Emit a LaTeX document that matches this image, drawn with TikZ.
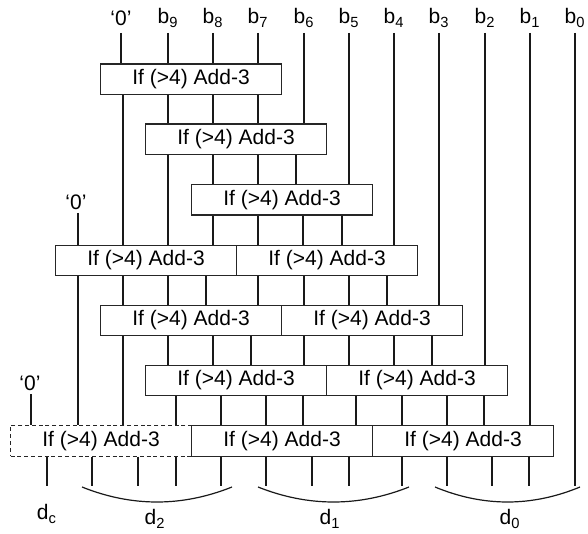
\documentclass[tikz,border=0pt]{standalone}
\usepackage{fontspec}
\setmainfont{Liberation Sans}
\begin{document}
\begin{tikzpicture}[x=0.5pt,y=-0.5pt,
  addbox/.style={draw=black!85,line width=0.55pt,minimum width=90.5pt,minimum height=15.25pt,inner sep=0pt,anchor=north west,font=\fontsize{10.5}{12}\selectfont},
  dashbox/.style={addbox,dash pattern=on 2pt off 1.4pt},
  wire/.style={line width=0.75pt,black!90},
  lbl/.style={inner sep=0pt,font=\fontsize{10.5}{12}\selectfont}]
\useasboundingbox (0,0) rectangle (588,534);
% boxes
\node[addbox] (r1) at (100,63.5) {If (>4) Add-3};
\node[addbox] (r2) at (145,123.5) {If (>4) Add-3};
\node[addbox] (r3) at (191,184) {If (>4) Add-3};
\node[addbox] (r4a) at (55,244.5) {If (>4) Add-3};
\node[addbox] (r4b) at (236,244.5) {If (>4) Add-3};
\node[addbox] (r5a) at (100,304.5) {If (>4) Add-3};
\node[addbox] (r5b) at (281,304.5) {If (>4) Add-3};
\node[addbox] (r6a) at (145,364.5) {If (>4) Add-3};
\node[addbox] (r6b) at (326,364.5) {If (>4) Add-3};
\node[dashbox] (r7a) at (10,425) {If (>4) Add-3};
\node[addbox] (r7b) at (191,425) {If (>4) Add-3};
\node[addbox] (r7c) at (372,425) {If (>4) Add-3};
% top inputs
\foreach \n/\x/\t/\dst in {z/121/‘0’/r1, b9/168/b\textsubscript{9}/r1, b8/213/b\textsubscript{8}/r1, b7/258/b\textsubscript{7}/r1,
  b6/304/b\textsubscript{6}/r2, b5/349/b\textsubscript{5}/r3, b4/394/b\textsubscript{4}/r4b, b3/439/b\textsubscript{3}/r5b,
  b2/485/b\textsubscript{2}/r6b, b1/530/b\textsubscript{1}/r7c}{
  \node[lbl] (l\n) at (\x,18) {\t};
  \coordinate (t\n) at (\x,33);
  \draw[wire] (t\n) -- (\dst.north -| t\n);
}
\node[lbl] (lb0) at (575,18) {b\textsubscript{0}};
\coordinate (tb0) at (575,33);
\coordinate (eb0) at (575,486);
\draw[wire] (tb0) -- (eb0);
% extra zeros
\node[lbl] (lz2) at (76,202) {‘0’};
\coordinate (tz2) at (78,213);
\draw[wire] (tz2) -- (r4a.north -| tz2);
\node[lbl] (lz3) at (30,383) {‘0’};
\coordinate (tz3) at (31,394);
\draw[wire] (tz3) -- (r7a.north -| tz3);
% internal wires
\foreach \a/\b/\x in {r1/r4a/123, r1/r2/168, r1/r2/213, r1/r2/258,
  r2/r4a/168, r2/r3/213, r2/r3/258, r2/r3/296,
  r3/r4a/213, r3/r4b/258, r3/r4b/303, r3/r4b/342,
  r4a/r7a/78, r4a/r5a/123, r4a/r5a/168, r4a/r5a/206,
  r4b/r5a/258, r4b/r5b/304, r4b/r5b/349, r4b/r5b/387,
  r5a/r7a/123, r5a/r6a/168, r5a/r6a/213, r5a/r6a/251,
  r5b/r6a/304, r5b/r6b/349, r5b/r6b/394, r5b/r6b/432,
  r6a/r7a/176, r6a/r7b/221, r6a/r7b/266, r6a/r7b/303,
  r6b/r7b/356, r6b/r7c/402, r6b/r7c/447, r6b/r7c/484}{
  \draw[wire] (\a.south -| \x,0) -- (\b.north -| \x,0);
}
% outputs
\foreach \s/\x in {r7a/47, r7a/92, r7a/138, r7a/176, r7b/221, r7b/266, r7b/312, r7b/349, r7c/402, r7c/447, r7c/492, r7c/529}{
  \coordinate (o\x) at (\x,486);
  \draw[wire] (\s.south -| o\x) -- (o\x);
}
% braces
\coordinate (a2s) at (82,487); \coordinate (a2e) at (232,487);
\coordinate (a1s) at (258,487); \coordinate (a1e) at (409,487);
\coordinate (a0s) at (435,487); \coordinate (a0e) at (580,487);
\draw[wire,line width=0.6pt] (a2s) .. controls (132,507) and (182,507) .. (a2e);
\draw[wire,line width=0.6pt] (a1s) .. controls (308.3,507) and (358.7,507) .. (a1e);
\draw[wire,line width=0.6pt] (a0s) .. controls (483.3,507) and (531.7,507) .. (a0e);
\node[lbl] (dc) at (47,514) {d\textsubscript{c}};
\node[lbl] (d2) at (155,519) {d\textsubscript{2}};
\node[lbl] (d1) at (330,519) {d\textsubscript{1}};
\node[lbl] (d0) at (510,519) {d\textsubscript{0}};
\end{tikzpicture}
\end{document}
